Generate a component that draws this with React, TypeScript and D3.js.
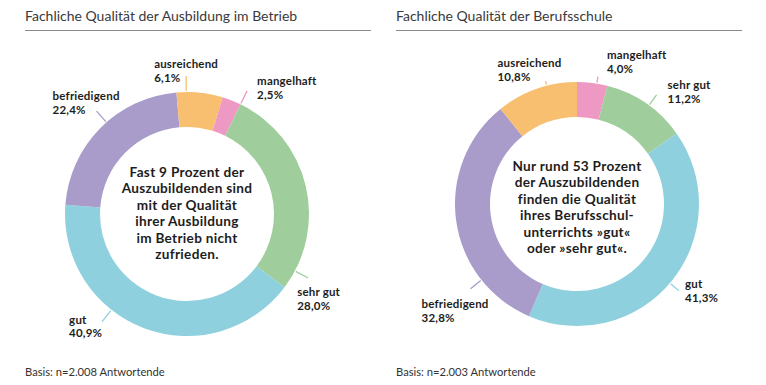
import React from 'react';
import * as d3 from 'd3';

// grades in drawing order (clockwise)
const grades = ['mangelhaft', 'sehr gut', 'gut', 'befriedigend', 'ausreichend'];
const gradeColors = ['#ee98c4', '#9fcd9b', '#8fd0df', '#a99ccb', '#f7bf6f'];

const betriebValues = [2.5, 28.0, 40.9, 22.4, 6.1];
const schuleValues = [4.0, 11.2, 41.3, 32.8, 10.8];

const betriebTitle = 'Fachliche Qualität der Ausbildung im Betrieb';
const schuleTitle = 'Fachliche Qualität der Berufsschule';

const betriebCenter = [
  'Fast 9 Prozent der',
  'Auszubildenden sind',
  'mit der Qualität',
  'ihrer Ausbildung',
  'im Betrieb nicht',
  'zufrieden.',
];
const schuleCenter = [
  'Nur rund 53 Prozent',
  'der Auszubildenden',
  'finden die Qualität',
  'ihres Berufsschul-',
  'unterrichts »gut«',
  'oder »sehr gut«.',
];

const betriebBasis = 'Basis: n=2.008 Antwortende';
const schuleBasis = 'Basis: n=2.003 Antwortende';

// label layout: where on the slice the leader sits (0..1), its length, and text offset
type LabelPos = { at: number; len: number; dx: number; dy: number };

const betriebLabels: LabelPos[] = [
  { at: 1.0, len: 15, dx: 10, dy: -6 },
  { at: 0.91, len: 15, dx: -11, dy: 18 },
  { at: 0.62, len: 15, dx: -33, dy: 2 },
  { at: 0.55, len: 15, dx: -44, dy: -11 },
  { at: 0.21, len: 16, dx: -32, dy: -8 },
];
const schuleLabels: LabelPos[] = [
  { at: 0.65, len: 7, dx: 9, dy: -18 },
  { at: 0.54, len: 13, dx: 11, dy: -6 },
  { at: 0.51, len: 12, dx: 6, dy: -3 },
  { at: 0.24, len: 14, dx: -49, dy: 19 },
  { at: 0.63, len: 5, dx: -48, dy: -14 },
];

const fmt = (v: number) => v.toFixed(1).replace('.', ',') + '%';

const R_OUT = 122;
const R_IN = 87;
const FONT = 'Lato, "Open Sans", sans-serif';

type PanelProps = {
  x0: number;
  cx: number;
  cy: number;
  startDeg: number;
  textShift: number;
  values: number[];
  labels: LabelPos[];
  title: string;
  centerLines: string[];
  basis: string;
};

const Panel = ({ x0, cx, cy, startDeg, textShift, values, labels, title, centerLines, basis }: PanelProps) => {
  const start = (startDeg * Math.PI) / 180;
  const pie = d3
    .pie<number>()
    .sort(null)
    .value((d) => d)
    .startAngle(start)
    .endAngle(start + 2 * Math.PI);
  const arcs = pie(values);
  const arc = d3.arc<d3.PieArcDatum<number>>().innerRadius(R_IN).outerRadius(R_OUT);

  const lineH = 16.4;
  const firstY = textShift - ((centerLines.length - 1) * lineH) / 2;

  return (
    <g>
      <text x={x0} y={21} fontFamily={FONT} fontSize={14} fill="#3a3a3a">
        {title}
      </text>
      <line x1={x0} x2={x0 + 346} y1={30.5} y2={30.5} stroke="#8a8a8a" strokeWidth={1} />

      <g transform={`translate(${cx},${cy})`}>
        {arcs.map((a, i) => (
          <path key={grades[i]} d={arc(a) || ''} fill={gradeColors[i]} />
        ))}
        {arcs.map((a, i) => {
          const l = labels[i];
          const ang = a.startAngle + (a.endAngle - a.startAngle) * l.at;
          const r1 = R_OUT + 1;
          const r2 = R_OUT + l.len;
          const ex = Math.sin(ang) * r2;
          const ey = -Math.cos(ang) * r2;
          return (
            <g key={'l' + grades[i]}>
              <line
                x1={Math.sin(ang) * r1}
                y1={-Math.cos(ang) * r1}
                x2={ex}
                y2={ey}
                stroke={gradeColors[i]}
                strokeWidth={1.3}
              />
              <text
                x={ex + l.dx}
                y={ey + l.dy}
                fontFamily={FONT}
                fontWeight={700}
                fontSize={11.5}
                letterSpacing={0.2}
                fill="#1d1d1d"
              >
                {grades[i]}
              </text>
              <text
                x={ex + l.dx}
                y={ey + l.dy + 13.9}
                fontFamily={FONT}
                fontWeight={700}
                fontSize={11.5}
                letterSpacing={0.2}
                fill="#1d1d1d"
              >
                {fmt(values[i])}
              </text>
            </g>
          );
        })}
        {centerLines.map((t, i) => (
          <text
            key={i}
            x={0}
            y={firstY + i * lineH}
            textAnchor="middle"
            fontFamily={FONT}
            fontWeight={700}
            fontSize={13.6}
            letterSpacing={0.3}
            fill="#1d1d1d"
          >
            {t}
          </text>
        ))}
      </g>

      <text x={x0} y={376} fontFamily={FONT} fontSize={11.2} fill="#333">
        {basis}
      </text>
    </g>
  );
};

const App = () => {
  return (
    <svg
      width={766}
      height={385}
      style={{ position: 'absolute', left: 0, top: 0, background: '#fff' }}
    >
      <rect width={766} height={385} fill="#fff" />
      <Panel
        x0={25}
        cx={187}
        cy={214}
        startDeg={17}
        textShift={4}
        values={betriebValues}
        labels={betriebLabels}
        title={betriebTitle}
        centerLines={betriebCenter}
        basis={betriebBasis}
      />
      <Panel
        x0={396}
        cx={577}
        cy={204}
        startDeg={0}
        textShift={8}
        values={schuleValues}
        labels={schuleLabels}
        title={schuleTitle}
        centerLines={schuleCenter}
        basis={schuleBasis}
      />
    </svg>
  );
};

export default App;
